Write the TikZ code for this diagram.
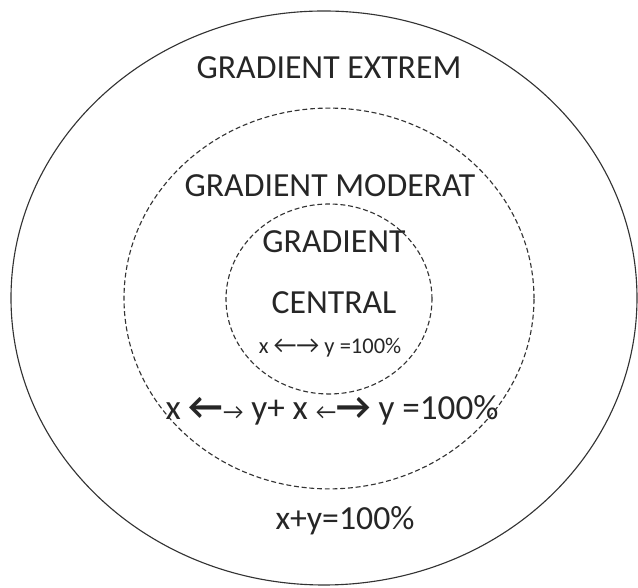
\documentclass[tikz,border=0pt]{standalone}
\usepackage{fontspec}
\setmainfont{Carlito}

\begin{document}
\begin{tikzpicture}[font=\fontsize{24}{28}\selectfont]
  % Zones of the gradient: extrem (outer), moderat (middle), central (inner).
  \tikzset{zone/.style={line width=.8pt, black!80},
    dashzone/.style={zone, dash pattern=on 3.5pt off 2pt},
    label/.style={text=black!85, inner sep=0pt}}
  \useasboundingbox (-8.1,-7.25) rectangle (7.85,7.45);
  \coordinate (O) at (0,0);
  \coordinate (M) at (0.125,-0.0125);
  \coordinate (C) at (0.125,-0.025);
  \draw[zone] (O) ellipse (7.825 and 7.175);
  \draw[dashzone] (M) ellipse (5.125 and 4.76);
  \draw[dashzone] (C) ellipse (2.575 and 2.375);

  \node[label] (extrem) at (0.125,5.76) {GRADIENT EXTREM};
  \node[label] (moderat) at (0.15,2.8) {GRADIENT MODERAT};
  \node[label] (gradient) at (0.25,1.4) {GRADIENT};
  \node[label] (central) at (0.25,-0.125) {CENTRAL};
  \node[label,font=\fontsize{16}{18}\selectfont] (inner) at (0.15,-1.25)
    {x {\fontsize{18}{20}\selectfont ←→} y =100\%};
  \node[label,font=\fontsize{25}{28}\selectfont] (middle) at (0.2,-2.815)
    {x {\fontsize{27}{30}\selectfont\bfseries ←}{\fontsize{16}{18}\selectfont →} y+ x
     {\fontsize{16}{18}\selectfont ←}{\fontsize{27}{30}\selectfont\bfseries →} y =100\%};
  \node[label] (outer) at (0.525,-5.575) {x+y=100\%};
\end{tikzpicture}
\end{document}
